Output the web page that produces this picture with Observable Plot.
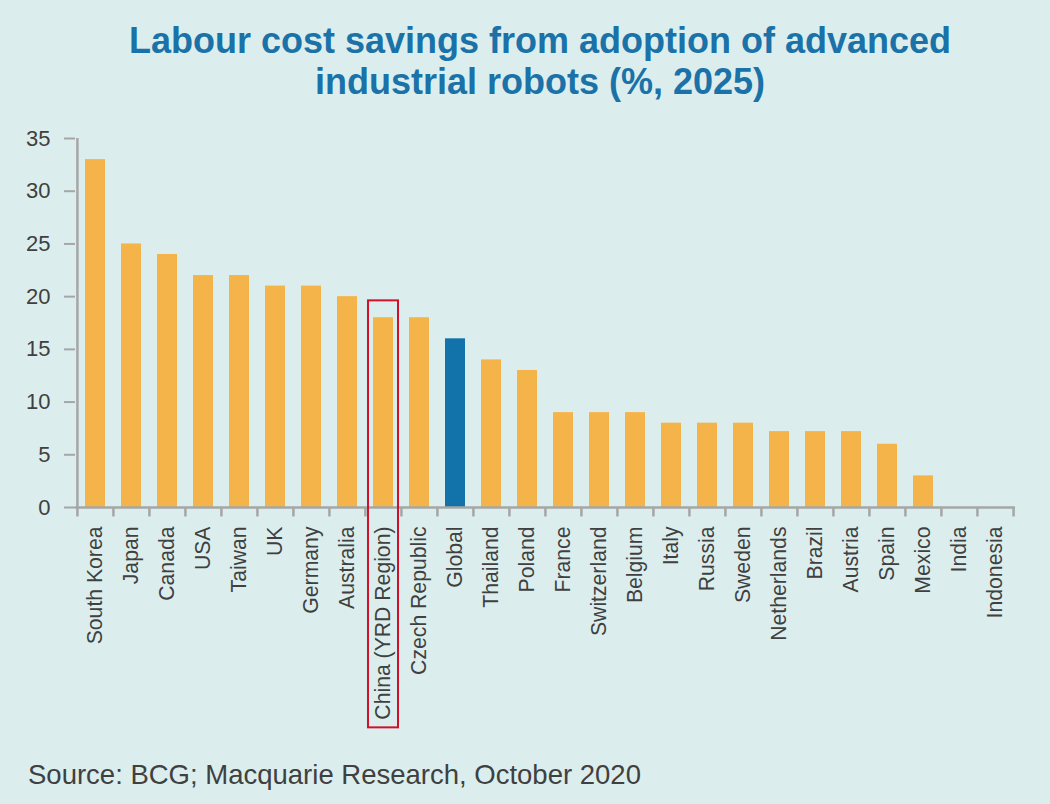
<!DOCTYPE html>
<html>
<head>
<meta charset="utf-8">
<script src="https://cdn.jsdelivr.net/npm/d3@7"></script>
<script src="https://cdn.jsdelivr.net/npm/@observablehq/plot@0.6"></script>
<style>
  html, body { margin: 0; padding: 0; background: #dbeeed; }
  body { width: 1050px; height: 804px; overflow: hidden; font-family: "Liberation Sans", Arial, Helvetica, sans-serif; }
  #title { height: 120px; box-sizing: border-box; padding-top: 20px; padding-left: 30px; text-align: center; color: #1a72a8; font-weight: bold; font-size: 36px; line-height: 41px; white-space: nowrap; }
  #chart svg { display: block; }
  #source { padding-left: 28px; font-size: 27.5px; line-height: 30px; color: #404040; }
</style>
</head>
<body>
<div id="title">Labour cost savings from adoption of advanced<br>industrial robots (%, 2025)</div>
<div id="chart"></div>
<div id="source">Source: BCG; Macquarie Research, October 2020</div>
<script>
const categories = ["South Korea", "Japan", "Canada", "USA", "Taiwan", "UK", "Germany", "Australia",
  "China (YRD Region)", "Czech Republic", "Global", "Thailand", "Poland", "France", "Switzerland",
  "Belgium", "Italy", "Russia", "Sweden", "Netherlands", "Brazil", "Austria", "Spain", "Mexico",
  "India", "Indonesia"];
const values = [33, 25, 24, 22, 22, 21, 21, 20, 18, 18, 16, 14, 13, 9, 9, 9, 8, 8, 8, 7.2, 7.2, 7.2, 6, 3, 0, 0];
const yTicks = [0, 5, 10, 15, 20, 25, 30, 35];
const highlighted = "Global";
const boxed = "China (YRD Region)";

const data = categories.map((c, i) => ({country: c, value: values[i]}));

const W = 1050, ML = 75, MR = 35;
const bw = (W - ML - MR) / categories.length;
const axisGray = "#a6a6a6";
const orange = "#f5b44a";
const blue = "#1273ab";

const chart = Plot.plot({
  width: W,
  height: 640,
  marginLeft: ML,
  marginRight: MR,
  marginTop: 18,
  marginBottom: 253,
  style: {background: "transparent", color: "#404040", fontFamily: "'Liberation Sans', Arial, Helvetica, sans-serif"},
  x: {domain: categories, padding: 0, label: null},
  y: {domain: [0, 35], label: null},
  marks: [
    Plot.barY(data, {x: "country", y: "value", fill: d => d.country === highlighted ? blue : orange, insetLeft: 8, insetRight: 8}),
    Plot.ruleY([0], {stroke: axisGray, strokeWidth: 2.5}),
    Plot.ruleX([categories[0]], {x: d => d, y1: -0.9, y2: 35, dx: -bw / 2, stroke: axisGray, strokeWidth: 2.5}),
    Plot.ruleX(categories.slice(1), {x: d => d, y1: -0.9, y2: 0, dx: -bw / 2, stroke: axisGray, strokeWidth: 2.5}),
    Plot.ruleX([categories[categories.length - 1]], {x: d => d, y1: -0.9, y2: 0, dx: bw / 2, stroke: axisGray, strokeWidth: 2.5}),
    Plot.axisY({ticks: yTicks, tickSize: 11, tickPadding: 14, stroke: axisGray, strokeWidth: 2, fill: "#404040", fontSize: 22, label: null}),
    Plot.axisX({tickSize: 0, tickPadding: 19, tickRotate: -90, fill: "#404040", fontSize: 21.2, label: null}),
    Plot.barY([boxed], {x: d => d, y1: -20.9, y2: 19.6, insetLeft: 3, insetRight: 3, fill: "none", stroke: "#d0112b", strokeWidth: 2})
  ]
});
document.getElementById("chart").appendChild(chart);
</script>
</body>
</html>
